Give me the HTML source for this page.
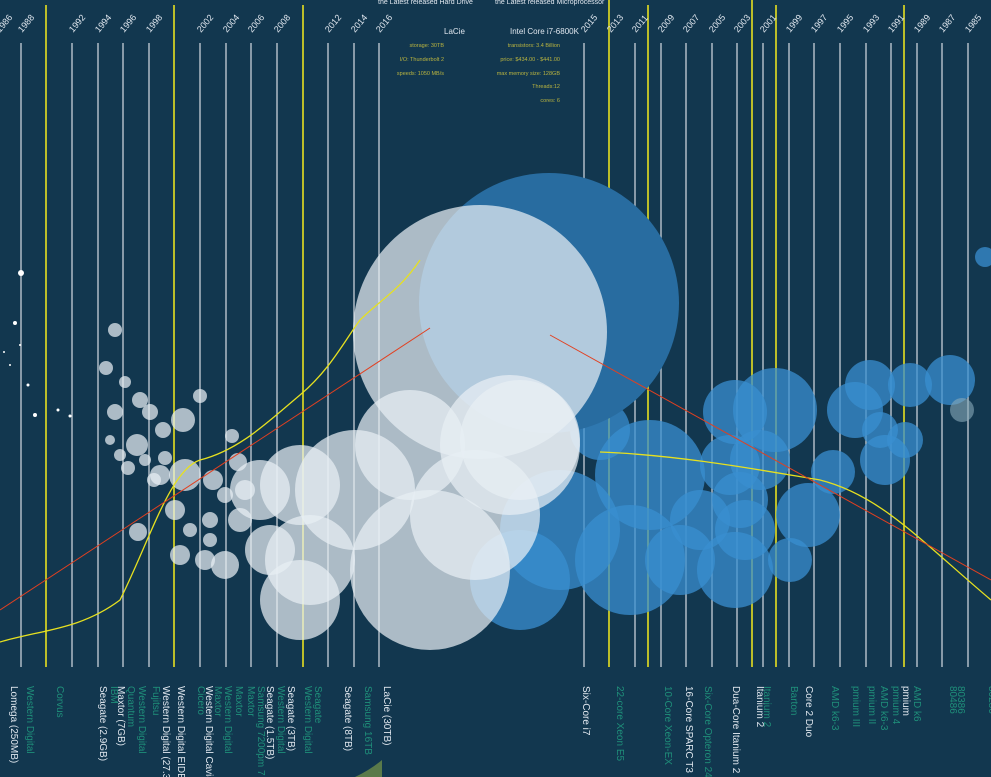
<!DOCTYPE html><html><head><style>body{margin:0;background:#12374f;overflow:hidden}svg{display:block}text{font-family:"Liberation Sans",sans-serif}</style></head><body>
<svg width="991" height="777" viewBox="0 0 991 777">
<rect width="991" height="777" fill="#12374f"/>
<g stroke="#c8d0d8" stroke-width="1.3">
<line x1="21" y1="43" x2="21" y2="667"/><line x1="72" y1="43" x2="72" y2="667"/><line x1="98" y1="43" x2="98" y2="667"/><line x1="123" y1="43" x2="123" y2="667"/><line x1="149" y1="43" x2="149" y2="667"/><line x1="200" y1="43" x2="200" y2="667"/><line x1="226" y1="43" x2="226" y2="667"/><line x1="251" y1="43" x2="251" y2="667"/><line x1="277" y1="43" x2="277" y2="667"/><line x1="328" y1="43" x2="328" y2="667"/><line x1="354" y1="43" x2="354" y2="667"/><line x1="379" y1="43" x2="379" y2="667"/>
<line x1="584" y1="43" x2="584" y2="667"/><line x1="635" y1="43" x2="635" y2="667"/><line x1="661" y1="43" x2="661" y2="667"/><line x1="686" y1="43" x2="686" y2="667"/><line x1="712" y1="43" x2="712" y2="667"/><line x1="737" y1="43" x2="737" y2="667"/><line x1="763" y1="43" x2="763" y2="667"/><line x1="789" y1="43" x2="789" y2="667"/><line x1="814" y1="43" x2="814" y2="667"/><line x1="840" y1="43" x2="840" y2="667"/><line x1="866" y1="43" x2="866" y2="667"/><line x1="891" y1="43" x2="891" y2="667"/><line x1="917" y1="43" x2="917" y2="667"/><line x1="942" y1="43" x2="942" y2="667"/><line x1="968" y1="43" x2="968" y2="667"/>
</g>
<g stroke="#e6e020" stroke-width="1.6">
<line x1="46" y1="5" x2="46" y2="667"/><line x1="174" y1="5" x2="174" y2="667"/><line x1="303" y1="5" x2="303" y2="667"/>
<line x1="609" y1="0" x2="609" y2="667"/><line x1="648" y1="5" x2="648" y2="667"/><line x1="752" y1="0" x2="752" y2="667"/><line x1="776" y1="5" x2="776" y2="667"/><line x1="904" y1="5" x2="904" y2="667"/>
</g>
<g fill="#dfe6ee" font-size="9">
<text transform="translate(0,33) rotate(-50)">1986</text><text transform="translate(22,33) rotate(-50)">1988</text><text transform="translate(73,33) rotate(-50)">1992</text><text transform="translate(99,33) rotate(-50)">1994</text><text transform="translate(124,33) rotate(-50)">1996</text><text transform="translate(150,33) rotate(-50)">1998</text><text transform="translate(201,33) rotate(-50)">2002</text><text transform="translate(227,33) rotate(-50)">2004</text><text transform="translate(252,33) rotate(-50)">2006</text><text transform="translate(278,33) rotate(-50)">2008</text><text transform="translate(329,33) rotate(-50)">2012</text><text transform="translate(355,33) rotate(-50)">2014</text><text transform="translate(380,33) rotate(-50)">2016</text>
<text transform="translate(585,33) rotate(-50)">2015</text><text transform="translate(611,33) rotate(-50)">2013</text><text transform="translate(636,33) rotate(-50)">2011</text><text transform="translate(662,33) rotate(-50)">2009</text><text transform="translate(687,33) rotate(-50)">2007</text><text transform="translate(713,33) rotate(-50)">2005</text><text transform="translate(738,33) rotate(-50)">2003</text><text transform="translate(764,33) rotate(-50)">2001</text><text transform="translate(790,33) rotate(-50)">1999</text><text transform="translate(815,33) rotate(-50)">1997</text><text transform="translate(841,33) rotate(-50)">1995</text><text transform="translate(867,33) rotate(-50)">1993</text><text transform="translate(892,33) rotate(-50)">1991</text><text transform="translate(918,33) rotate(-50)">1989</text><text transform="translate(943,33) rotate(-50)">1987</text><text transform="translate(969,33) rotate(-50)">1985</text>
</g>
<g fill="#dfe6ee" font-size="7"><text x="378" y="4">the Latest released Hard Drive</text><text x="495" y="4">the Latest released Microprocessor</text>
<text x="444" y="34" font-size="8">LaCie</text><text x="510" y="34" font-size="8">Intel Core i7-6800K</text></g>
<g fill="#b9b440" font-size="5.5" text-anchor="end">
<text x="444" y="47">storage: 30TB</text><text x="444" y="61">I/O: Thunderbolt 2</text><text x="444" y="75">speeds: 1050 MB/s</text>
<text x="560" y="47">transistors: 3.4 Billion</text><text x="560" y="61">price: $434.00 - $441.00</text><text x="560" y="75">max memory size: 128GB</text><text x="560" y="88">Threads:12</text><text x="560" y="102">cores: 6</text></g>
<g fill="#3a8fd0" fill-opacity="0.75">
<circle cx="650" cy="475" r="55"/><circle cx="630" cy="560" r="55"/><circle cx="560" cy="530" r="60"/><circle cx="520" cy="580" r="50"/><circle cx="600" cy="430" r="30"/><circle cx="680" cy="560" r="35"/><circle cx="700" cy="520" r="30"/><circle cx="735" cy="570" r="38"/><circle cx="745" cy="530" r="30"/><circle cx="730" cy="465" r="30"/><circle cx="760" cy="460" r="30"/><circle cx="790" cy="560" r="22"/><circle cx="808" cy="515" r="32"/><circle cx="740" cy="500" r="28"/><circle cx="775" cy="410" r="42"/><circle cx="735" cy="412" r="32"/><circle cx="855" cy="410" r="28"/><circle cx="885" cy="460" r="25"/><circle cx="910" cy="385" r="22"/><circle cx="870" cy="385" r="25"/><circle cx="950" cy="380" r="25"/><circle cx="833" cy="472" r="22"/><circle cx="905" cy="440" r="18"/><circle cx="985" cy="257" r="10"/><circle cx="880" cy="430" r="18"/>
</g>
<circle cx="962" cy="410" r="12" fill="#8ab" fill-opacity="0.6"/>
<circle cx="549" cy="303" r="130" fill="#286ca0"/>
<g fill="#e8eef4" fill-opacity="0.72">
<circle cx="480" cy="332" r="127"/><circle cx="430" cy="570" r="80"/><circle cx="475" cy="515" r="65"/><circle cx="510" cy="445" r="70"/><circle cx="410" cy="445" r="55"/><circle cx="355" cy="490" r="60"/><circle cx="300" cy="600" r="40"/><circle cx="310" cy="560" r="45"/><circle cx="300" cy="485" r="40"/><circle cx="260" cy="490" r="30"/><circle cx="270" cy="550" r="25"/><circle cx="520" cy="440" r="60"/>
<circle cx="185" cy="475" r="16"/><circle cx="183" cy="420" r="12"/><circle cx="160" cy="475" r="10"/><circle cx="175" cy="510" r="10"/><circle cx="210" cy="520" r="8"/><circle cx="225" cy="565" r="14"/><circle cx="205" cy="560" r="10"/><circle cx="180" cy="555" r="10"/><circle cx="240" cy="520" r="12"/><circle cx="245" cy="490" r="10"/><circle cx="213" cy="480" r="10"/><circle cx="138" cy="532" r="9"/><circle cx="137" cy="445" r="11"/><circle cx="140" cy="400" r="8"/><circle cx="150" cy="412" r="8"/><circle cx="163" cy="430" r="8"/><circle cx="115" cy="412" r="8"/><circle cx="106" cy="368" r="7"/><circle cx="115" cy="330" r="7"/><circle cx="125" cy="382" r="6"/><circle cx="128" cy="468" r="7"/><circle cx="154" cy="480" r="7"/><circle cx="165" cy="458" r="7"/><circle cx="200" cy="396" r="7"/><circle cx="232" cy="436" r="7"/><circle cx="238" cy="462" r="9"/><circle cx="225" cy="495" r="8"/><circle cx="210" cy="540" r="7"/><circle cx="190" cy="530" r="7"/><circle cx="120" cy="455" r="6"/><circle cx="110" cy="440" r="5"/><circle cx="145" cy="460" r="6"/>
</g>
<g fill="#fff"><circle cx="21" cy="273" r="3"/><circle cx="15" cy="323" r="2"/><circle cx="35" cy="415" r="2"/><circle cx="70" cy="416" r="1.5"/><circle cx="58" cy="410" r="1.5"/><circle cx="28" cy="385" r="1.5"/><circle cx="10" cy="365" r="1"/><circle cx="4" cy="352" r="1"/><circle cx="20" cy="345" r="1"/></g>
<path d="M0,642 C40,630 80,630 120,600 C150,540 170,470 200,460 C240,450 270,420 300,395 C330,370 345,340 360,320 C380,300 400,290 420,260" stroke="#e6e020" stroke-width="1.3" fill="none"/>
<path d="M600,452 C680,455 760,470 820,480 C880,495 920,540 991,600" stroke="#e6e020" stroke-width="1.3" fill="none"/>
<path d="M0,610 L430,328" stroke="#e24020" stroke-width="1" fill="none"/>
<path d="M550,335 L991,580" stroke="#e24020" stroke-width="1" fill="none"/>
<path d="M355,777 Q370,770 382,760 L382,777 Z" fill="#5a7a4a"/>
<g font-size="10" fill="#dfe6ee">
<text transform="translate(11,686) rotate(90)">Lomega   (250MB)</text>
<text transform="translate(100,686) rotate(90)">Seagate    (2.9GB)</text>
<text transform="translate(118,686) rotate(90)">Maxtor    (7GB)</text>
<text transform="translate(178,686) rotate(90)">Western Digital EIDE</text>
<text transform="translate(163,686) rotate(90)">Western Digital  (27.3</text>
<text transform="translate(206,686) rotate(90)">Western Digital Cavia</text>
<text transform="translate(267,686) rotate(90)">Seagate (1.5TB)</text>
<text transform="translate(288,686) rotate(90)">Seagate (3TB)</text>
<text transform="translate(345,686) rotate(90)">Seagate   (8TB)</text>
<text transform="translate(384,686) rotate(90)">LaCie      (30TB)</text>
<text transform="translate(583,686) rotate(90)">Six-Core i7</text>
<text transform="translate(686,686) rotate(90)">16-Core SPARC T3</text>
<text transform="translate(733,686) rotate(90)">Dua-Core Itanium 2</text>
<text transform="translate(757,686) rotate(90)">Itanium 2</text>
<text transform="translate(806,686) rotate(90)">Core 2 Duo</text>
<text transform="translate(903,686) rotate(90)">pmium</text>
</g>
<g font-size="10" fill="#1f8f7a">
<text transform="translate(27,686) rotate(90)">Western Digital</text>
<text transform="translate(57,686) rotate(90)">Corvus</text>
<text transform="translate(111,686) rotate(90)">IBM</text>
<text transform="translate(128,686) rotate(90)">Quantum</text>
<text transform="translate(139,686) rotate(90)">Western Digital</text>
<text transform="translate(153,686) rotate(90)">Fujitsu</text>
<text transform="translate(198,686) rotate(90)">Cicero</text>
<text transform="translate(215,686) rotate(90)">Maxtor</text>
<text transform="translate(225,686) rotate(90)">Western Digital</text>
<text transform="translate(236,686) rotate(90)">Maxtor</text>
<text transform="translate(248,686) rotate(90)">Maxtor</text>
<text transform="translate(258,686) rotate(90)">Samsung 7200pm 7</text>
<text transform="translate(278,686) rotate(90)">Western Digital</text>
<text transform="translate(305,686) rotate(90)">Western Digital</text>
<text transform="translate(315,686) rotate(90)">Seagate</text>
<text transform="translate(365,686) rotate(90)">Samsung 16TB</text>
<text transform="translate(617,686) rotate(90)">22-core Xeon E5</text>
<text transform="translate(665,686) rotate(90)">10-Core Xeon-EX</text>
<text transform="translate(705,686) rotate(90)">Six-Core Opteron 24</text>
<text transform="translate(764,686) rotate(90)">Itanium 2</text>
<text transform="translate(791,686) rotate(90)">Barton</text>
<text transform="translate(832,686) rotate(90)">AMD k6-3</text>
<text transform="translate(853,686) rotate(90)">pmium III</text>
<text transform="translate(869,686) rotate(90)">pmium II</text>
<text transform="translate(881,686) rotate(90)">AMD k6-3</text>
<text transform="translate(893,686) rotate(90)">pmium 4</text>
<text transform="translate(914,686) rotate(90)">AMD k6</text>
<text transform="translate(950,686) rotate(90)">80486</text>
<text transform="translate(958,686) rotate(90)">80386</text>
<text transform="translate(989,686) rotate(90)">80286</text>
</g>
</svg></body></html>
